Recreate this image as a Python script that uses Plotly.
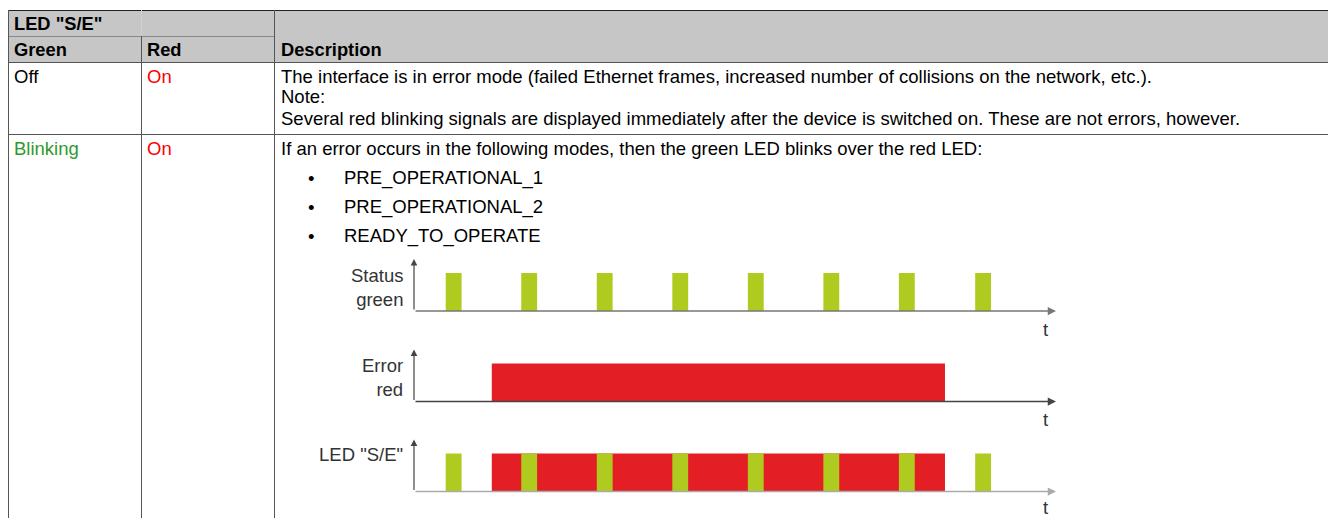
import plotly.graph_objects as go

W, H = 1328, 518

# ---- data ----
green_start = [0.42, 1.42, 2.42, 3.42, 4.42, 5.42, 6.42, 7.43]
green_len = 0.21
red_start = [1.03]
red_len = [6.0]
t_max = 8.5

rows = ["Status<br>green", "Error<br>red", "LED \"S/E\""]

header1 = "LED \"S/E\""
header2 = ["Green", "Red", "Description"]
row1 = ["Off", "On"]
row1_desc = [
    "The interface is in error mode (failed Ethernet frames, increased number of collisions on the network, etc.).",
    "Note:",
    "Several red blinking signals are displayed immediately after the device is switched on. These are not errors, however.",
]
row2 = ["Blinking", "On"]
row2_desc = "If an error occurs in the following modes, then the green LED blinks over the red LED:"
bullets = ["PRE_OPERATIONAL_1", "PRE_OPERATIONAL_2", "READY_TO_OPERATE"]

GREEN = "#b0cb1f"
RED = "#e31e25"
FONT = "Liberation Sans, Arial, sans-serif"
FS = 18.5


def px(x):
    return x / W


def py(y):
    return 1 - y / H


fig = go.Figure()

# ---- timing diagram subplots ----
base_px = [311, 401.5, 491.5]
top_px = 52
bar_px = 38
ytop = top_px / bar_px
x0_px, x1_px = 414, 1056
base_colors = ["#777777", "#444444", "#aaaaaa"]
t_label_px = [329, 419, 507]

for i in range(3):
    xa = "x" if i == 0 else f"x{i+1}"
    ya = "y" if i == 0 else f"y{i+1}"
    kx = "xaxis" if i == 0 else f"xaxis{i+1}"
    ky = "yaxis" if i == 0 else f"yaxis{i+1}"
    fig.layout[kx] = dict(domain=[px(x0_px), px(x1_px)], range=[0, t_max], visible=False,
                          anchor=ya, fixedrange=True)
    fig.layout[ky] = dict(domain=[py(base_px[i]), py(base_px[i] - top_px)], range=[0, ytop],
                          visible=False, anchor=xa, fixedrange=True)
    if i in (1, 2):
        fig.add_trace(go.Bar(x=red_len, base=red_start, y=[0.5] * len(red_start), width=1,
                             orientation="h", marker=dict(color=RED, line=dict(width=0)),
                             xaxis=xa, yaxis=ya, showlegend=False, hoverinfo="skip"))
    if i in (0, 2):
        fig.add_trace(go.Bar(x=[green_len] * len(green_start), base=green_start,
                             y=[0.5] * len(green_start), width=1, orientation="h",
                             marker=dict(color=GREEN, line=dict(width=0)),
                             xaxis=xa, yaxis=ya, showlegend=False, hoverinfo="skip"))
    # x axis arrow
    fig.add_annotation(x=t_max, y=0, ax=0, ay=0, xref=xa, yref=ya, axref=xa, ayref=ya,
                       text="", showarrow=True, arrowhead=2, arrowsize=1.1, arrowwidth=1.5,
                       arrowcolor=base_colors[i], standoff=0)
    # y axis arrow
    fig.add_annotation(x=0, y=ytop, ax=0, ay=0, xref=xa, yref=ya, axref=xa, ayref=ya,
                       text="", showarrow=True, arrowhead=2, arrowsize=1.1, arrowwidth=1.2,
                       arrowcolor="#444444", standoff=0)
    # row label
    fig.add_annotation(x=px(405), y=py(base_px[i] - 24 if i < 2 else base_px[i] - 37),
                       xref="paper", yref="paper", text=rows[i], showarrow=False,
                       xanchor="right", yanchor="middle", align="right",
                       font=dict(family=FONT, size=FS, color="#333333"))
    # t label
    fig.add_annotation(x=px(1045), y=py(t_label_px[i]), xref="paper", yref="paper",
                       text="t", showarrow=False, xanchor="center", yanchor="middle",
                       borderpad=0, font=dict(family=FONT, size=FS, color="#333333"))

fig.update_layout(barmode="overlay")

# ---- table frame ----
shapes = []
shapes.append(dict(type="rect", xref="paper", yref="paper", x0=px(8), x1=px(W), y0=py(10.5), y1=py(62),
                   fillcolor="#c6c6c6", line=dict(width=0), layer="below"))


def hline(y, xa, xb, color="#444444", w=1):
    shapes.append(dict(type="line", xref="paper", yref="paper", x0=px(xa), x1=px(xb),
                       y0=py(y), y1=py(y), line=dict(color=color, width=w)))


def vline(x, ya, yb, color="#444444", w=1):
    shapes.append(dict(type="line", xref="paper", yref="paper", x0=px(x), x1=px(x),
                       y0=py(ya), y1=py(yb), line=dict(color=color, width=w)))


hline(10.5, 8, W, "#222222", 1.2)
hline(36.5, 8, 274.5, "#888888")
hline(62.5, 8, W, "#555555")
hline(134.5, 8, W, "#555555")
vline(8.5, 10, H, "#555555")
vline(141.5, 10, 36, "#d0d0d0")
vline(141.5, 36, H, "#555555")
vline(274.5, 10, H, "#555555")
fig.update_layout(shapes=shapes)


def txt(x, y, s, color="#000000", bold=False, size=FS):
    fig.add_annotation(x=px(x), y=py(y), xref="paper", yref="paper",
                       text=f"<b>{s}</b>" if bold else s, showarrow=False,
                       xanchor="left", yanchor="middle",
                       font=dict(family=FONT, size=size, color=color))


txt(12, 23, header1, bold=True, size=18.3)
txt(12, 49, header2[0], bold=True, size=18.3)
txt(145, 49, header2[1], bold=True, size=18.3)
txt(279, 49, header2[2], bold=True, size=18.3)

txt(12, 76, row1[0])
txt(145, 76, row1[1], color="#ff0000")
for k, line in enumerate(row1_desc):
    txt(279, 76 + k * 21, line)

txt(12, 148, row2[0], color="#2e9a2e")
txt(145, 148, row2[1], color="#ff0000")
txt(279, 148, row2_desc)
for k, b in enumerate(bullets):
    txt(306, 178 + k * 29, "•")
    txt(342, 178 + k * 29, b)

fig.update_layout(width=W, height=H, margin=dict(l=0, r=0, t=0, b=0),
                  paper_bgcolor="white", plot_bgcolor="white", showlegend=False)

fig.write_html("out.html", config={"displayModeBar": False},
               post_script="document.body.style.margin='0';document.body.style.overflow='hidden';")
